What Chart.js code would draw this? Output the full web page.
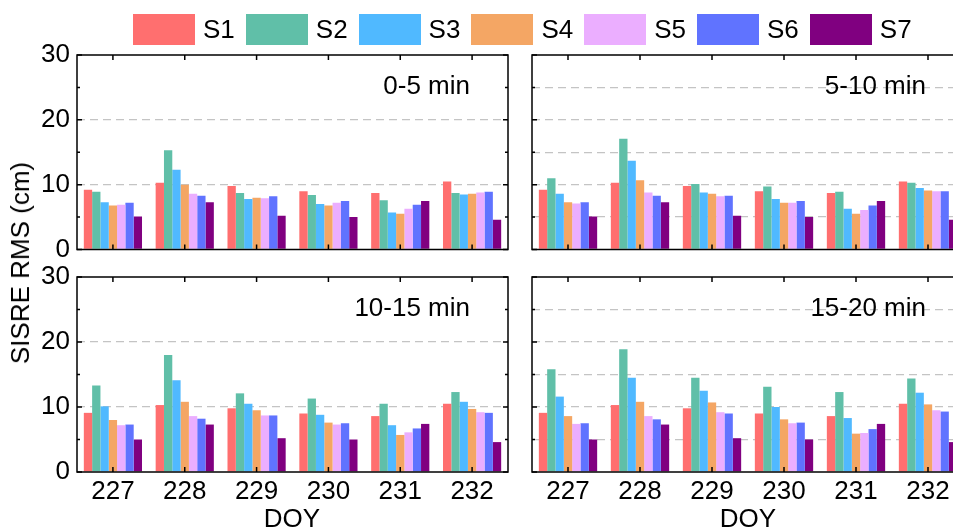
<!DOCTYPE html>
<html>
<head>
<meta charset="utf-8">
<script src="https://cdn.jsdelivr.net/npm/chart.js@4.4.1/dist/chart.umd.min.js"></script>
<style>
  html, body { margin: 0; padding: 0; background: #fff; }
  body { width: 953px; height: 528px; overflow: hidden; position: relative;
         font-family: "Liberation Sans", Arial, sans-serif; color: #000; }
  canvas { position: absolute; }
  .legend-item { position: absolute; top: 14px; height: 31px; display: flex; align-items: center;
                 font-size: 26px; line-height: 31px; z-index: 2; }
  .legend-item i { display: inline-block; width: 62px; height: 31px; margin-right: 8px; }
  .txt { position: absolute; font-size: 26px; line-height: 26px; white-space: nowrap; z-index: 2; }
</style>
</head>
<body>
<div id="legend"></div>
<canvas id="p1"></canvas>
<canvas id="p2"></canvas>
<canvas id="p3"></canvas>
<canvas id="p4"></canvas>
<div class="txt" id="ytitle" style="left:20px;top:263px;transform:translate(-50%,-50%) rotate(-90deg);">SISRE RMS (cm)</div>
<div class="txt" style="left:292px;top:505px;transform:translateX(-50%);">DOY</div>
<div class="txt" style="left:748px;top:505px;transform:translateX(-50%);">DOY</div>
<script>
// Day-of-year categories and satellite series
const categories = ['227', '228', '229', '230', '231', '232'];
const seriesNames = ['S1', 'S2', 'S3', 'S4', 'S5', 'S6', 'S7'];
const seriesColors = ['#FF6F6F', '#60BFA8', '#50B9FF', '#F4A664', '#EBAEFF', '#6073FF', '#800080'];
const panelTitles = ['0-5 min', '5-10 min', '10-15 min', '15-20 min'];
const yTickValues = [0, 10, 20, 30];

// SISRE RMS (cm), one row per series S1..S7, one column per DOY
const rms0to5 = [
  [9.2, 10.3, 9.8, 9.0, 8.7, 10.5],
  [8.9, 15.3, 8.7, 8.4, 7.6, 8.7],
  [7.3, 12.3, 7.8, 7.0, 5.7, 8.5],
  [6.8, 10.0, 8.0, 6.8, 5.5, 8.6],
  [6.9, 8.6, 7.9, 7.2, 6.3, 8.8],
  [7.2, 8.3, 8.2, 7.5, 6.9, 8.9],
  [5.1, 7.3, 5.2, 5.0, 7.5, 4.6]
];
const rms5to10 = [
  [9.2, 10.3, 9.8, 9.0, 8.7, 10.5],
  [11.0, 17.1, 10.1, 9.7, 8.9, 10.3],
  [8.6, 13.7, 8.8, 7.8, 6.3, 9.5],
  [7.3, 10.7, 8.6, 7.2, 5.5, 9.1],
  [7.1, 8.8, 8.2, 7.2, 6.1, 9.0],
  [7.3, 8.3, 8.3, 7.5, 6.8, 9.0],
  [5.1, 7.3, 5.2, 5.0, 7.5, 4.6]
];
const rms10to15 = [
  [9.1, 10.3, 9.8, 9.0, 8.6, 10.5],
  [13.3, 18.0, 12.1, 11.3, 10.5, 12.3],
  [10.1, 14.1, 10.5, 8.8, 7.2, 10.8],
  [8.0, 10.8, 9.5, 7.6, 5.7, 9.7],
  [7.2, 8.6, 8.7, 7.3, 6.1, 9.2],
  [7.3, 8.2, 8.7, 7.5, 6.7, 9.1],
  [5.0, 7.3, 5.2, 5.0, 7.4, 4.6]
];
const rms15to20 = [
  [9.1, 10.3, 9.8, 9.0, 8.6, 10.5],
  [15.8, 18.9, 14.5, 13.1, 12.3, 14.4],
  [11.6, 14.5, 12.5, 10.0, 8.3, 12.2],
  [8.6, 10.8, 10.7, 8.1, 5.9, 10.4],
  [7.4, 8.6, 9.2, 7.5, 6.0, 9.5],
  [7.5, 8.1, 9.0, 7.6, 6.6, 9.3],
  [5.0, 7.3, 5.2, 5.0, 7.4, 4.6]
];

const FONT = '"Liberation Sans", Arial, sans-serif';

// Legend
const legendEl = document.getElementById('legend');
seriesNames.forEach((name, i) => {
  const item = document.createElement('div');
  item.className = 'legend-item';
  item.style.left = (133 + i * 112.8) + 'px';
  const sw = document.createElement('i');
  sw.style.background = seriesColors[i];
  item.appendChild(sw);
  item.appendChild(document.createTextNode(name));
  legendEl.appendChild(item);
});

// Frame, inward ticks and panel caption
const framePlugin = {
  id: 'panelFrame',
  afterDatasetsDraw(chart, args, opts) {
    const { ctx, chartArea: a, scales: { x, y } } = chart;
    ctx.save();
    ctx.strokeStyle = '#000';
    ctx.lineWidth = 1.5;
    ctx.beginPath();
    for (let i = 0; i < categories.length; i++) {
      const px = x.getPixelForValue(i);
      ctx.moveTo(px, a.top); ctx.lineTo(px, a.top + 5);
      ctx.moveTo(px, a.bottom); ctx.lineTo(px, a.bottom - 5);
    }
    for (let v = 0; v <= 30; v += 5) {
      const py = y.getPixelForValue(v);
      const len = v % 10 === 0 ? 5 : 3;
      ctx.moveTo(a.left, py); ctx.lineTo(a.left + len, py);
      ctx.moveTo(a.right, py); ctx.lineTo(a.right - len, py);
    }
    ctx.stroke();
    ctx.strokeRect(a.left, a.top, a.right - a.left, a.bottom - a.top);
    ctx.fillStyle = '#000';
    ctx.font = '26px ' + FONT;
    ctx.textAlign = 'right';
    ctx.textBaseline = 'middle';
    ctx.fillText(opts.caption, a.right - 38, a.top + 32);
    ctx.restore();
  }
};

function makePanel(id, values, caption, box) {
  const cv = document.getElementById(id);
  cv.width = box.w; cv.height = box.h;
  cv.style.left = box.x + 'px'; cv.style.top = box.y + 'px';
  cv.style.width = box.w + 'px'; cv.style.height = box.h + 'px';
  return new Chart(cv, {
    type: 'bar',
    data: {
      labels: categories,
      datasets: seriesNames.map((name, i) => ({
        label: name,
        data: values[i],
        backgroundColor: seriesColors[i],
        borderWidth: 0,
        categoryPercentage: 0.81,
        barPercentage: 1.0
      }))
    },
    options: {
      responsive: false,
      animation: false,
      devicePixelRatio: 1,
      layout: { padding: { left: 0, top: box.top, right: box.w - box.right, bottom: 0 } },
      plugins: {
        legend: { display: false },
        tooltip: { enabled: false },
        panelFrame: { caption: caption }
      },
      scales: {
        x: {
          offset: true,
          grid: { display: false, drawTicks: false },
          border: { display: false },
          ticks: { display: box.xLabels, color: '#000', padding: 4, maxRotation: 0,
                   font: { family: FONT, size: 26 } },
          afterFit(s) { s.height = box.h - box.bottom; }
        },
        y: {
          min: 0, max: 30,
          grid: {
            drawTicks: false,
            lineWidth: 1.3,
            color: c => (c.tick && (c.tick.value === 0 || c.tick.value === 30)) ? 'rgba(0,0,0,0)' : '#c4c4c4'
          },
          border: { display: false, dash: [8, 5] },
          ticks: {
            display: box.yLabels, stepSize: 5, padding: 7, color: '#000',
            font: { family: FONT, size: 26 },
            callback: v => (yTickValues.includes(v) ? String(v) : '')
          },
          afterFit(s) { s.width = box.left; }
        }
      }
    },
    plugins: [framePlugin]
  });
}

// Canvases are transparent and may overlap; each chart area is placed by padding and fixed axis sizes
makePanel('p1', rms0to5, panelTitles[0],
  { x: 0, y: 30, w: 520, h: 250, left: 77, top: 25, right: 508, bottom: 219.5, xLabels: false, yLabels: true });
makePanel('p2', rms5to10, panelTitles[1],
  { x: 520, y: 30, w: 460, h: 250, left: 12, top: 25, right: 444, bottom: 219.5, xLabels: false, yLabels: false });
makePanel('p3', rms10to15, panelTitles[2],
  { x: 0, y: 252, w: 520, h: 276, left: 77, top: 25, right: 508, bottom: 220, xLabels: true, yLabels: true });
makePanel('p4', rms15to20, panelTitles[3],
  { x: 520, y: 252, w: 460, h: 276, left: 12, top: 25, right: 444, bottom: 220, xLabels: true, yLabels: false });
</script>
</body>
</html>
